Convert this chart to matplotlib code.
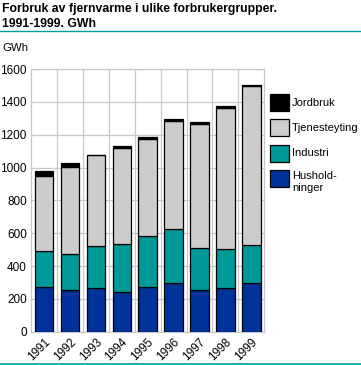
import matplotlib
matplotlib.use("Agg")
import matplotlib.pyplot as plt
from matplotlib.patches import Rectangle
from matplotlib.lines import Line2D

years = ["1991", "1992", "1993", "1994", "1995", "1996", "1997", "1998", "1999"]
husholdninger = [273, 257, 267, 239, 273, 299, 257, 269, 299]
industri = [218, 218, 254, 297, 311, 328, 254, 236, 232]
tjenesteyting = [460, 531, 554, 585, 592, 658, 752, 855, 968]
jordbruk = [27, 21, 3, 9, 8, 8, 12, 12, 6]

series = [("Husholdninger", husholdninger, "#003399"),
          ("Industri", industri, "#009999"),
          ("Tjenesteyting", tjenesteyting, "#cccccc"),
          ("Jordbruk", jordbruk, "#000000")]
legend_labels = {"Husholdninger": "Hushold-\nninger"}

plt.rcParams['font.family'] = ['Liberation Sans', 'DejaVu Sans']
W, H = 361, 365
fig = plt.figure(figsize=(W / 100, H / 100), dpi=100)

ax = fig.add_axes([31 / W, 1 - 331.7 / H, (264.3 - 31) / W, (331.7 - 69) / H])
x = list(range(len(years)))
bottom = [0] * len(years)
for name, vals, col in series:
    ax.bar(x, vals, width=0.71, bottom=bottom, color=col, edgecolor="black",
           linewidth=0.9, zorder=3)
    bottom = [b + v for b, v in zip(bottom, vals)]

ax.set_xlim(-0.5, len(years) - 0.5)
ax.set_ylim(0, 1600)
ax.set_yticks(range(0, 1601, 200))
ax.set_xticks(x)
ax.set_xticklabels(years, rotation=45, ha="right", va="top", fontsize=8.5,
                   rotation_mode="anchor")
ax.tick_params(axis="y", length=0, labelsize=8.5, pad=3)
ax.tick_params(axis="x", length=0, pad=3)
ax.set_xticks([i - 0.5 for i in range(1, len(years))], minor=True)
ax.tick_params(axis="x", which="minor", length=0)
ax.grid(axis="y", color="#c8c8c8", linewidth=0.9, zorder=0)
ax.grid(axis="x", which="minor", color="#c8c8c8", linewidth=0.9, zorder=0)
for s in ax.spines.values():
    s.set_color("#c8c8c8")
    s.set_linewidth(0.9)

# title and rules
fig.text(2 / W, 1 - 3 / H, "Forbruk av fjernvarme i ulike forbrukergrupper.\n1991-1999. GWh",
         ha="left", va="top", fontsize=8.8, fontweight="bold", linespacing=1.35)
fig.add_artist(Line2D([0, 1], [1 - 30.7 / H, 1 - 30.7 / H], color="#009999", linewidth=1.0))
fig.add_artist(Line2D([0, 1], [1 - 364 / H, 1 - 364 / H], color="#009999", linewidth=1.2))
fig.text(2 / W, 1 - 48 / H, "GWh", ha="left", va="center", fontsize=8.2)

# legend
ytops = [94, 119, 145, 170]
for (name, vals, col), yt in zip(reversed(series), ytops):
    fig.add_artist(Rectangle((270 / W, 1 - (yt + 17) / H), 19 / W, 17 / H,
                             facecolor=col, edgecolor="black", linewidth=0.9))
    if name == "Husholdninger":
        fig.text(292 / W, 1 - (yt + 1) / H, legend_labels[name], ha="left",
                 va="top", fontsize=8, linespacing=1.25)
    else:
        fig.text(292 / W, 1 - (yt + 8.5) / H, name, ha="left", va="center",
                 fontsize=8)

fig.savefig("out.png", dpi=100)
